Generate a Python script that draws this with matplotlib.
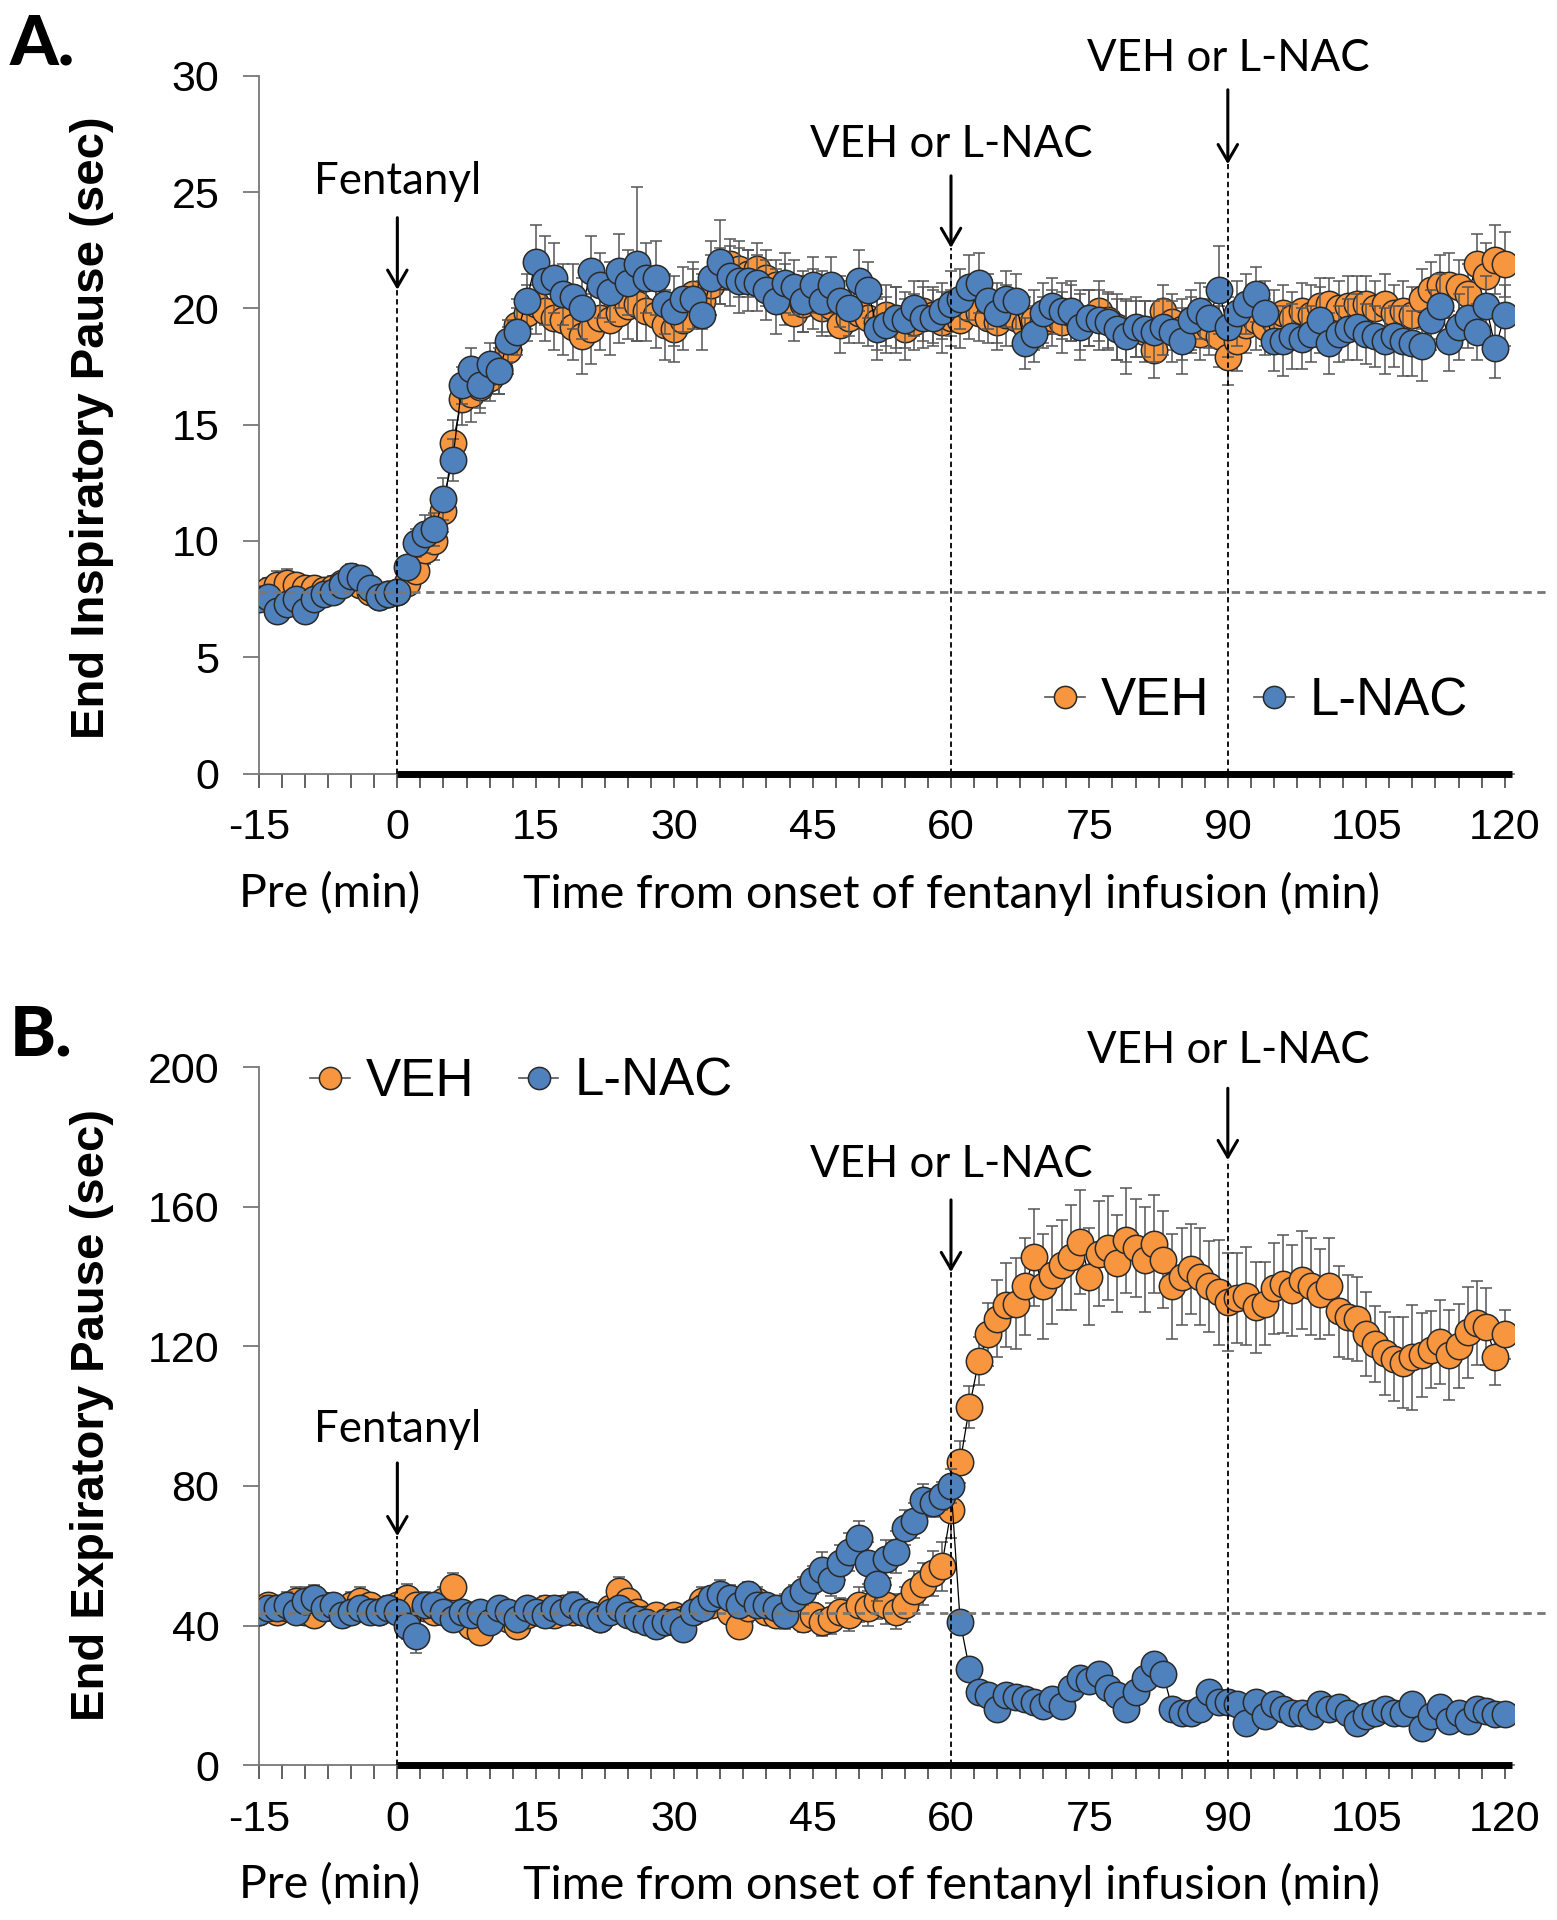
import numpy as np
import matplotlib.pyplot as plt
from matplotlib.lines import Line2D
from matplotlib.ticker import MultipleLocator

# minutes -15 .. 120, one point per minute
minutes = np.arange(-15, 121)

# A. End inspiratory pause (sec)
insp_veh = [7.6, 7.9, 8.1, 8.2, 8.1, 8.0, 8.0, 7.9, 8.0, 8.2, 8.3, 8.1, 7.8, 7.6, 7.7, 7.8,
            8.2, 8.7, 9.6, 10.0, 11.3, 14.2, 16.1, 16.3, 16.6, 17.0, 17.4, 18.2, 19.3, 19.8, 20.2,
            19.9, 19.6, 19.5, 19.2, 18.8, 19.1, 19.6, 19.5, 19.8, 20.1, 20.2, 19.9, 19.7, 19.3, 19.1,
            19.5, 20.6, 20.3, 21.0, 21.4, 21.9, 21.7, 21.5, 21.7, 21.3, 21.0, 20.6, 19.8, 20.2, 20.4,
            20.0, 20.1, 19.3, 19.6, 19.8, 19.6, 19.4, 19.7, 19.5, 19.1, 19.4, 19.9, 19.7, 19.4, 19.6,
            19.5, 20.0, 19.8, 19.6, 19.4, 19.7, 19.6, 19.3, 19.5, 19.4, 19.6, 19.4, 19.8, 19.5, 19.6,
            19.9, 19.5, 19.2, 19.0, 19.1, 19.0, 18.2, 19.9, 19.4, 19.1, 19.3, 18.9, 19.2, 18.8, 17.9,
            18.6, 19.3, 19.5, 19.2, 19.5, 19.8, 19.6, 19.9, 19.7, 20.1, 20.2, 20.0, 20.1, 20.2, 20.2,
            20.0, 20.2, 19.8, 19.9, 19.7, 20.4, 20.8, 21.0, 21.0, 20.9, 20.6, 21.9, 21.4, 22.1, 21.9]
insp_veh_sem = [0.4, 0.5, 0.6, 0.6, 0.5, 0.5, 0.4, 0.5, 0.5, 0.4, 0.4, 0.4, 0.3, 0.3, 0.3, 0.4,
                0.4, 0.5, 0.6, 0.8, 0.9, 1.0, 1.1, 1.2, 1.1, 1.0, 1.1, 1.0, 1.1, 1.2, 1.3,
                1.3, 1.4, 1.5, 1.4, 1.6, 1.5, 1.4, 1.5, 1.3, 1.4, 1.6, 1.3, 1.4, 1.5, 1.4,
                1.3, 1.4, 1.2, 1.3, 1.2, 1.1, 1.2, 1.0, 1.1, 1.2, 1.1, 1.3, 1.2, 1.2, 1.3,
                1.2, 1.3, 1.2, 1.1, 1.3, 1.2, 1.2, 1.3, 1.4, 1.3, 1.2, 1.3, 1.2, 1.3, 1.2,
                1.2, 1.3, 1.2, 1.1, 1.2, 1.3, 1.2, 1.2, 1.3, 1.1, 1.2, 1.3, 1.2, 1.3, 1.2,
                1.3, 1.2, 1.4, 1.3, 1.2, 1.3, 1.2, 1.1, 1.2, 1.3, 1.2, 1.1, 1.2, 1.3, 1.2,
                1.3, 1.2, 1.3, 1.2, 1.3, 1.2, 1.1, 1.2, 1.3, 1.2, 1.1, 1.2, 1.3, 1.2, 1.2,
                1.2, 1.3, 1.2, 1.3, 1.2, 1.3, 1.2, 1.3, 1.4, 1.2, 1.3, 1.3, 1.4, 1.5, 1.4]
insp_lnac = [7.5, 7.6, 7.0, 7.3, 7.5, 7.0, 7.5, 7.7, 7.8, 8.1, 8.5, 8.4, 8.0, 7.6, 7.7, 7.8,
             8.9, 9.9, 10.3, 10.5, 11.8, 13.5, 16.7, 17.4, 16.7, 17.6, 17.3, 18.6, 19.0, 20.3, 22.0,
             21.2, 21.3, 20.6, 20.5, 20.0, 21.6, 21.0, 20.7, 21.6, 21.1, 21.9, 21.3, 21.3, 20.2, 19.9,
             20.4, 20.4, 19.7, 21.3, 22.0, 21.4, 21.2, 21.2, 21.1, 20.8, 20.3, 21.1, 20.9, 20.3, 21.0,
             20.3, 21.0, 20.3, 20.0, 21.2, 20.8, 19.1, 19.3, 19.6, 19.5, 20.0, 19.6, 19.6, 19.9, 20.2,
             20.4, 20.9, 21.1, 20.3, 19.8, 20.4, 20.3, 18.5, 18.9, 19.8, 20.1, 19.9, 19.9, 19.2, 19.6,
             19.5, 19.4, 19.1, 18.8, 19.2, 19.1, 19.0, 19.2, 19.0, 18.6, 19.5, 19.9, 19.6, 20.8, 19.2,
             19.8, 20.2, 20.6, 19.8, 18.6, 18.6, 18.8, 18.7, 18.9, 19.5, 18.5, 18.9, 19.1, 19.2, 18.9,
             18.8, 18.6, 18.8, 18.6, 18.5, 18.4, 19.5, 20.1, 18.6, 19.2, 19.6, 19.0, 20.1, 18.3, 19.7]
insp_lnac_sem = [0.3, 0.4, 0.4, 0.4, 0.3, 0.4, 0.4, 0.4, 0.3, 0.4, 0.5, 0.5, 0.4, 0.4, 0.3, 0.3,
                 0.4, 0.6, 0.8, 0.7, 0.9, 0.9, 0.8, 0.9, 1.0, 0.9, 1.0, 0.9, 1.0, 1.2, 1.6,
                 1.9, 1.5, 1.3, 1.4, 1.3, 1.5, 1.4, 1.3, 1.6, 1.4, 3.3, 1.5, 1.6, 1.3, 1.5,
                 1.4, 1.3, 1.5, 1.6, 1.8, 1.3, 1.4, 1.3, 1.2, 1.3, 1.4, 1.3, 1.2, 1.3, 1.2,
                 1.3, 1.2, 1.1, 1.2, 1.3, 1.2, 1.3, 1.2, 1.3, 1.2, 1.2, 1.3, 1.2, 1.2, 1.4,
                 1.3, 1.4, 1.3, 1.2, 1.3, 1.2, 1.2, 1.1, 1.2, 1.3, 1.2, 1.2, 1.3, 1.4, 1.2,
                 1.3, 1.2, 1.3, 1.6, 1.3, 1.2, 1.3, 1.2, 1.3, 1.4, 1.3, 1.2, 1.3, 1.9, 1.3,
                 1.4, 1.3, 1.2, 1.4, 1.3, 1.5, 1.4, 1.3, 1.2, 1.4, 1.3, 1.2, 1.3, 1.4, 1.3,
                 1.3, 1.4, 1.3, 1.5, 1.4, 1.5, 1.3, 1.4, 1.3, 1.4, 1.3, 1.2, 1.3, 1.3, 1.3]

# B. End expiratory pause (sec)
exp_veh = [44, 46, 44, 45, 47, 44, 43, 46, 45, 44, 46, 47, 46, 44, 45, 46,
           48, 46, 45, 44, 47, 51, 43, 40, 38, 43, 44, 42, 40, 43, 44,
           45, 43, 45, 44, 44, 43, 42, 45, 50, 47, 44, 42, 43, 41, 43,
           42, 44, 47, 46, 48, 44, 40, 45, 47, 44, 43, 45, 44, 42, 43,
           41, 42, 44, 43, 46, 45, 47, 46, 44, 46, 50, 52, 55, 57, 73,
           86.8, 102.7, 115.8, 123.5, 127.9, 131.8, 132.3, 137.2, 145.5, 137.2,
           140.5, 143.3, 145.5, 149.9, 140.0, 146.6, 148.2, 143.8, 150.4, 148.2,
           144.9, 149.3, 144.9, 137.2, 140.0, 142.2, 140.0, 137.2, 135.5, 132.8,
           133.9, 134.5, 131.2, 132.3, 136.7, 137.8, 136.1, 139.0, 137.2, 135.0,
           137.2, 130.1, 128.4, 127.9, 123.5, 120.7, 118.0, 116.4, 115.3, 116.9,
           117.5, 119.1, 121.3, 117.5, 120.2, 124.0, 126.8, 125.7, 116.9, 123.5]
exp_veh_sem = [3.5, 3, 3.5, 3, 4, 3, 3.5, 3, 3.5, 3, 3.5, 4, 3, 3, 3.5, 3,
               4, 3.5, 3, 3.5, 4, 4, 3.5, 3.5, 3, 3.5, 3.5, 3, 3.5, 3, 3.5,
               3.5, 3, 3.5, 3, 3.5, 3, 3.5, 3, 4, 3.5, 3, 3.5, 3, 3.5, 3,
               3.5, 3, 4, 3.5, 4, 3.5, 3.5, 4, 4, 3.5, 3.5, 4, 3.5, 4, 3.5,
               4, 4.5, 4, 4.5, 5, 5, 5, 5.5, 5, 5, 5.5, 6, 6.5, 7, 8,
               6, 6, 7, 9, 11, 12, 13, 14, 14, 15, 14, 13, 15, 15, 14,
               15, 15, 14, 15, 14, 15, 14, 14, 15, 14, 13, 14, 13, 15, 14,
               13, 14, 13, 12, 13, 14, 13, 14, 14, 13, 14, 13, 12, 12, 12,
               11, 12, 12, 13, 15, 12, 11, 12, 13, 12, 13, 12, 11, 8, 7]
exp_lnac = [44, 45, 45, 46, 44, 47, 48, 45, 46, 43, 44, 45, 44, 44, 45, 44,
            40, 37, 46, 46, 44, 42, 44, 43, 44, 41, 45, 44, 42, 45, 44,
            43, 45, 44, 46, 44, 43, 42, 44, 45, 43, 42, 41, 40, 41, 41,
            39, 44, 45, 48, 49, 48, 46, 49, 46, 46, 45, 43, 48, 50, 53,
            56, 53, 58, 61, 65, 58, 52, 59, 61, 68, 70, 76, 75, 77, 80,
            41, 27.5, 21, 20, 16, 20, 19.5, 19, 18, 17, 19, 17, 22, 25, 24,
            26, 22, 20, 16, 21, 25, 29, 26, 16, 15, 15, 16, 21, 18, 18,
            17.5, 12, 18, 14, 17.5, 16, 15, 15, 14, 17.5, 16, 16.5, 15, 12, 14,
            15, 16, 15, 15, 17.5, 10.5, 14, 16.5, 12.5, 15, 12.5, 16, 15.5, 14.5, 14.5]
exp_lnac_sem = [3, 3.5, 3, 3.5, 3, 4, 3.5, 3, 3, 3.5, 3, 3, 3.5, 3, 3, 3,
                4, 5, 3.5, 3, 3, 3.5, 3, 3.5, 3, 3.5, 3, 3, 3.5, 3, 3,
                3.5, 3, 3, 3.5, 3, 3, 3.5, 3, 3, 3.5, 3, 3.5, 3, 3.5, 3,
                3.5, 3, 3.5, 3, 4, 3.5, 3, 3.5, 3.5, 3, 3.5, 4, 3.5, 4, 4,
                5, 4.5, 5, 5.5, 5, 6, 5, 5.5, 6, 5, 5, 4.5, 4, 4, 5,
                3, 2.5, 2, 2, 2, 2, 2, 2, 2, 2, 2, 2, 2.5, 2.5, 2.5,
                2.5, 2, 2, 2, 2.5, 2.5, 3, 2.5, 2, 2, 2, 2, 3, 2, 2,
                2, 2, 2, 2, 2, 2, 2, 2, 2, 2, 2, 2, 2, 2, 2,
                2, 2, 2, 2, 2, 2, 2, 2, 2, 2, 2, 2, 2, 2, 2]

xticks = list(range(-15, 121, 15))
veh_color = "#F7963F"
lnac_color = "#4F81BD"
edge = "#2a2a2a"

plt.rcParams['font.family'] = ['Liberation Sans', 'DejaVu Sans']
calibri = ['Lato', 'DejaVu Sans']

fig = plt.figure(figsize=(15.57, 19.2), dpi=100)
axA = fig.add_axes([0.1663, 0.5971, 0.806, 0.3634])
axB = fig.add_axes([0.1663, 0.0807, 0.806, 0.3634])


def draw_panel(ax, veh, veh_sem, lnac, lnac_sem, ymax, ystep, baseline, marks, legend_at):
    z = 3
    for vals, sem, col in ((veh, veh_sem, veh_color), (lnac, lnac_sem, lnac_color)):
        ax.errorbar(minutes, vals, yerr=sem, fmt='none', ecolor='#555555',
                    elinewidth=1.1, capsize=4, capthick=1.1, zorder=z)
        ax.plot(minutes, vals, color='black', lw=0.9, marker='o', ms=19,
                mfc=col, mec=edge, mew=1.1, zorder=z + 1)
        z += 2

    ax.set_xlim(-15, 121)
    ax.set_ylim(0, ymax)
    for s in ('top', 'right'):
        ax.spines[s].set_visible(False)
    ax.spines['left'].set_color('#777777')
    ax.spines['left'].set_linewidth(1.3)
    ax.spines['bottom'].set_color('#777777')
    ax.spines['bottom'].set_linewidth(1.3)
    ax.hlines(0, 0, 120.8, color='black', lw=5, zorder=8, clip_on=False)

    ax.set_xticks(xticks)
    ax.set_xticklabels([str(t) for t in xticks])
    ax.xaxis.set_minor_locator(MultipleLocator(2.5))
    ax.set_yticks(np.arange(0, ymax + 1, ystep))
    ax.tick_params(axis='x', which='both', direction='out', length=10, width=1.3,
                   color='#555555', labelsize=31, pad=15)
    ax.tick_params(axis='y', direction='out', length=11.5, width=1.3,
                   color='#777777', labelsize=31, pad=17)

    # baseline reference
    ax.hlines(baseline, -15, 124.6, color='#777777', lw=2, linestyles=(0, (3, 2)),
              zorder=9, clip_on=False)

    for x, label, text_y, tail, tip in marks:
        ax.vlines(x, 0, tip, color='black', lw=1.3, linestyles=(0, (3, 2)), zorder=10)
        ax.annotate('', xy=(x, tip), xytext=(x, tail), annotation_clip=False,
                    arrowprops=dict(arrowstyle='->,head_length=0.6,head_width=0.35',
                                    lw=2.2, color='black', shrinkA=0, shrinkB=0,
                                    mutation_scale=20))
        ax.text(x, text_y, label, ha='center', va='baseline', fontsize=31.5,
                family=calibri, clip_on=False)

    handles = [Line2D([0], [0], color='#555555', lw=1.2, marker='o', ms=16,
                      mfc=veh_color, mec=edge, mew=1.1),
               Line2D([0], [0], color='#555555', lw=1.2, marker='o', ms=16,
                      mfc=lnac_color, mec=edge, mew=1.1)]
    ax.legend(handles, ['VEH', 'L-NAC'], ncol=2, loc='center', bbox_to_anchor=legend_at,
              frameon=False, fontsize=38, handlelength=0.75, handletextpad=0.3,
              columnspacing=0.85, borderpad=0)


draw_panel(axA, insp_veh, insp_veh_sem, insp_lnac, insp_lnac_sem, 30, 5, 7.8,
           [(0, 'Fentanyl', 24.9, 23.9, 20.8),
            (60, 'VEH or L-NAC', 26.5, 25.7, 22.6),
            (90, 'VEH or L-NAC', 30.2, 29.4, 26.2)],
           (0.795, 0.104))
draw_panel(axB, exp_veh, exp_veh_sem, exp_lnac, exp_lnac_sem, 200, 40, 43.5,
           [(0, 'Fentanyl', 92.6, 86.6, 65.6),
            (60, 'VEH or L-NAC', 168.6, 162, 141.3),
            (90, 'VEH or L-NAC', 201.2, 194, 173.4)],
           (0.209, 0.979))

fig.text(0.059, 0.777, 'End Inspiratory Pause (sec)', rotation=90, ha='center',
         va='center', fontsize=34, fontweight='bold')
fig.text(0.059, 0.263, 'End Expiratory Pause (sec)', rotation=90, ha='center',
         va='center', fontsize=34, fontweight='bold')

for yb in (0.5344, 0.0182):
    fig.text(0.212, yb, 'Pre (min)', ha='center', va='center', fontsize=33.5, family=calibri)
    fig.text(0.611, yb, 'Time from onset of fentanyl infusion (min)', ha='center',
             va='center', fontsize=33.5, family=calibri)

fig.text(0.006, 0.993, 'A.', ha='left', va='top', fontsize=50, fontweight='black',
         family=calibri)
fig.text(0.006, 0.477, 'B.', ha='left', va='top', fontsize=50, fontweight='black',
         family=calibri)

fig.savefig('out.png', dpi=100)
